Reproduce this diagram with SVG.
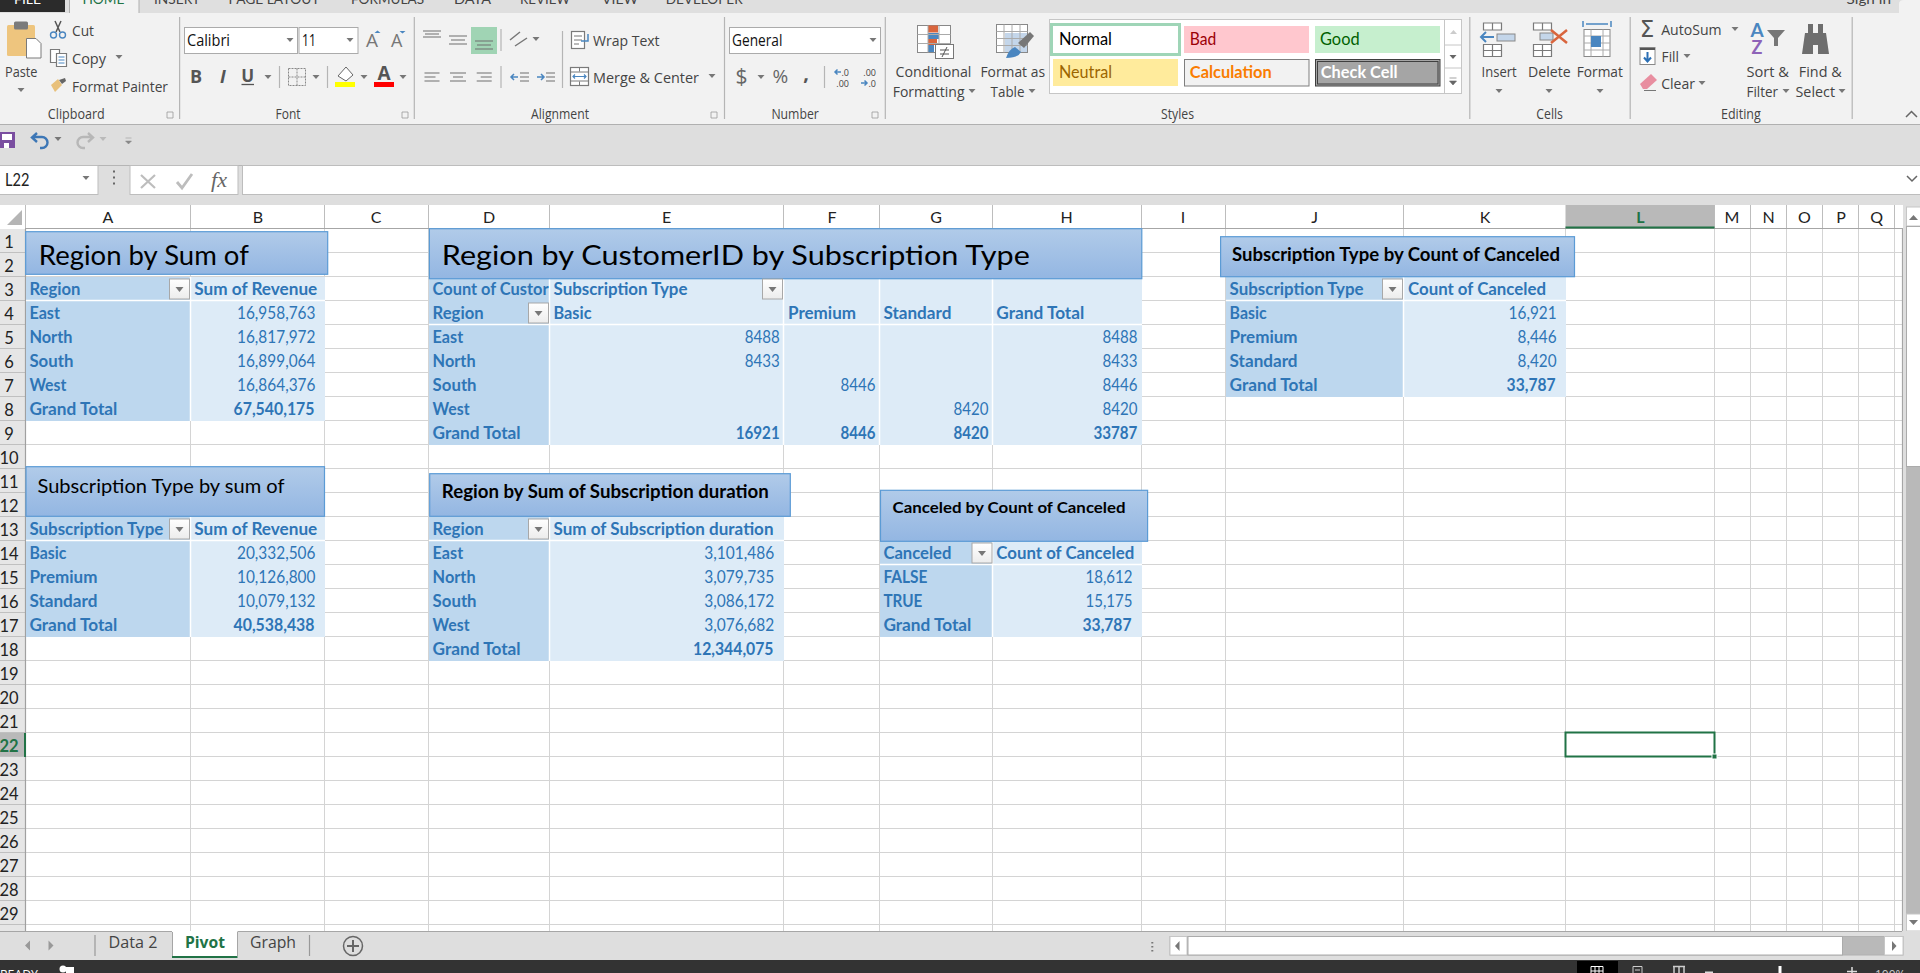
<svg xmlns="http://www.w3.org/2000/svg" width="1920" height="973" viewBox="0 0 1920 973">
<style>
text{font-family:"Lato","Open Sans","Liberation Sans",sans-serif;white-space:pre}
.u{font-family:"Open Sans","Liberation Sans",sans-serif;font-size:15px;fill:#444}
.g{font-size:14px}
.tab{font-size:13.5px;fill:#444}
.h{font-size:16px;fill:#222;text-anchor:middle}
.r{font-size:16.5px;fill:#222;text-anchor:middle}
.p{font-size:16.5px;fill:#2e75b6;transform:translate(0,-.5px)}
.b{font-size:16.5px;fill:#2e75b6;font-weight:700;transform:translate(0,-.5px)}
.dark{fill:#bdd7ee}.light{fill:#ddebf7}
.title{fill:url(#tg);stroke:#5b9bd5;stroke-width:1.2}
.t{fill:#000}
.sep{stroke:#b5b5b5;stroke-width:1.2;fill:none}
.ln{stroke:#6e6e6e;stroke-width:1.2;fill:none}
.ic{stroke:#7a7a7a;stroke-width:1.2;fill:#fff}
.wl{stroke:#fff;stroke-width:1.5;fill:none}
</style>
<defs>
<linearGradient id="tg" x1="0" y1="0" x2="0" y2="1"><stop offset="0" stop-color="#b1cbe9"/><stop offset="1" stop-color="#93b6e2"/></linearGradient>
<linearGradient id="fbg" x1="0" y1="0" x2="0" y2="1"><stop offset="0" stop-color="#fff"/><stop offset="1" stop-color="#ececec"/></linearGradient>
<g id="fb"><rect x="0.5" y="0.5" width="20" height="20" fill="url(#fbg)" stroke="#a8a8a8"/><path d="M6.5 8.5h8l-4 5z" fill="#777"/></g>
<path id="dd" d="M-3.5 -2h7l-3.5 4z" fill="#777"/>
</defs>
<rect width="1920" height="973" fill="#fff"/>

<g id="tabs">
<rect width="1920" height="13" fill="#dfdfdf"/>
<rect width="65" height="12" fill="#2b2b2b"/>
<text x="14" y="3.5" class="tab" style="fill:#fff" textLength="27" lengthAdjust="spacingAndGlyphs">FILE</text>
<path d="M69.5 0V13.5H139V0" fill="#f2f2f2" stroke="#b0b0b0"/>
<text x="82.4" y="3.5" class="tab" style="fill:#217346" textLength="42" lengthAdjust="spacingAndGlyphs">HOME</text>
<text x="154" y="3.5" class="tab" textLength="46" lengthAdjust="spacingAndGlyphs">INSERT</text>
<text x="228.6" y="3.5" class="tab" textLength="91" lengthAdjust="spacingAndGlyphs">PAGE LAYOUT</text>
<text x="351" y="3.5" class="tab" textLength="73" lengthAdjust="spacingAndGlyphs">FORMULAS</text>
<text x="454" y="3.5" class="tab" textLength="37" lengthAdjust="spacingAndGlyphs">DATA</text>
<text x="520" y="3.5" class="tab" textLength="50" lengthAdjust="spacingAndGlyphs">REVIEW</text>
<text x="602" y="3.5" class="tab" textLength="36" lengthAdjust="spacingAndGlyphs">VIEW</text>
<text x="665.7" y="3.5" class="tab" textLength="77" lengthAdjust="spacingAndGlyphs">DEVELOPER</text>
<text x="1846.5" y="3.5" class="tab" textLength="44.5" lengthAdjust="spacingAndGlyphs">Sign in</text>
<path d="M1899 13V4Q1899 0 1904 0H1920V13z" fill="#f2f2f2"/>
</g>

<g id="ribbon">
<rect y="13" width="1920" height="111" fill="#f2f2f2"/>
<path d="M0 124.5H1920" stroke="#b0b0b0" stroke-width="1.2"/>
<path class="sep" d="M179.6 17V119M414.3 17V119M724.5 17V119M885.3 17V119M1469.8 17V119M1630.2 17V119M1852.2 17V119"/>
<text class="u g" x="47.8" y="119" textLength="57" lengthAdjust="spacingAndGlyphs">Clipboard</text>
<text class="u g" x="275.5" y="119" textLength="25" lengthAdjust="spacingAndGlyphs">Font</text>
<text class="u g" x="531" y="119" textLength="58" lengthAdjust="spacingAndGlyphs">Alignment</text>
<text class="u g" x="771.4" y="119" textLength="47.4" lengthAdjust="spacingAndGlyphs">Number</text>
<text class="u g" x="1161" y="119" textLength="33" lengthAdjust="spacingAndGlyphs">Styles</text>
<text class="u g" x="1536.3" y="119" textLength="26.6" lengthAdjust="spacingAndGlyphs">Cells</text>
<text class="u g" x="1721" y="119" textLength="39.8" lengthAdjust="spacingAndGlyphs">Editing</text>
<path class="ic" style="stroke:#999;stroke-width:.8;fill:none" d="M167 112h6v6h-6zM402 112h6v6h-6zM711 112h6v6h-6zM872 112h6v6h-6z"/>

<g id="clipboard">
<rect x="7" y="25" width="28" height="31" rx="1.5" fill="#eec57e"/>
<rect x="14" y="21.5" width="14" height="8" rx="1.5" fill="#7b7b7b"/>
<path d="M26.5 38.5H36L41 43.5V58H26.5z" fill="#fff" stroke="#7a7a7a"/>
<text class="u" x="5" y="76.5" textLength="32.5" lengthAdjust="spacingAndGlyphs">Paste</text>
<use href="#dd" x="21" y="90"/>
<path d="M55 21L60 32M61 21L56 32" stroke="#555" stroke-width="1.5" fill="none"/>
<circle cx="53.5" cy="35" r="3" fill="none" stroke="#4a86c0" stroke-width="1.4"/><circle cx="62.5" cy="35" r="3" fill="none" stroke="#4a86c0" stroke-width="1.4"/>
<text class="u" x="72" y="35.5" textLength="22" lengthAdjust="spacingAndGlyphs">Cut</text>
<path class="ic" d="M50.5 49.5h9v13h-9z"/><path class="ic" d="M56.5 53.5h10v13h-10z"/><path d="M58.5 57h6M58.5 60h6M58.5 63h6" stroke="#4a86c0" fill="none"/>
<text class="u" x="72" y="63.5" textLength="34" lengthAdjust="spacingAndGlyphs">Copy</text>
<use href="#dd" x="119" y="57"/>
<path d="M51 85L58 79L62 85L55 92z" fill="#e8c07a"/><path d="M59 80L65 78L66 81L62 84z" fill="#666"/>
<text class="u" x="72" y="91.5" textLength="96" lengthAdjust="spacingAndGlyphs">Format Painter</text>
</g>

<g id="font">
<rect x="184.5" y="27.5" width="113" height="26" fill="#fff" stroke="#ababab"/>
<rect x="299" y="27.5" width="59" height="26" fill="#fff" stroke="#ababab"/>
<text x="187" y="45.5" class="u" style="fill:#111;font-size:16px" textLength="43" lengthAdjust="spacingAndGlyphs">Calibri</text>
<text x="302" y="45.5" class="u" style="fill:#111;font-size:16px" textLength="14" lengthAdjust="spacingAndGlyphs">11</text>
<use href="#dd" x="290" y="40"/><use href="#dd" x="350" y="40"/>
<text x="372" y="47" class="u" style="fill:#777;font-size:19px;text-anchor:middle">A</text><path d="M374.500 33l3 -2.500 3 2.500z" fill="#4a86c0"/>
<text x="396.700" y="47" class="u" style="fill:#777;font-size:18px;text-anchor:middle">A</text><path d="M399.500 31h6l-3 2.500z" fill="#4a86c0"/>
<text x="196" y="83" class="u" style="fill:#555;font-weight:700;font-size:18px;text-anchor:middle">B</text>
<text x="223" y="83" class="u" style="fill:#555;font-weight:700;font-style:italic;font-size:18px;text-anchor:middle">I</text>
<text x="247.800" y="81.500" class="u" style="fill:#555;font-weight:700;font-size:17px;text-anchor:middle">U</text><path d="M241.500 84.500h12.500" stroke="#555" stroke-width="1.300"/>
<use href="#dd" x="268" y="77"/>
<path class="sep" d="M279.500 66V88M327.500 66V88"/>
<path d="M288.500 68.500h17v17h-17zM297 68.500v17M288.500 77h17" stroke="#888" stroke-width="1" stroke-dasharray="2 1" fill="none"/>
<use href="#dd" x="316" y="77"/>
<path d="M338 76L346 67L353 75L346 81z" fill="#fff" stroke="#666"/><rect x="335" y="82" width="20" height="5" fill="#ff0"/>
<use href="#dd" x="364" y="77"/>
<text x="384" y="80" class="u" style="fill:#555;font-weight:700;font-size:19px;text-anchor:middle">A</text><rect x="374" y="82" width="20" height="5" fill="#f00"/>
<use href="#dd" x="403" y="77"/>
</g>

<g id="alignment">
<rect x="471" y="27" width="26" height="27" fill="#a0d4b4"/>
<path class="ln" d="M423 31h18M425 34h14M423 37h18M449 36h18M451 40h14M449 44h18M475 41h18M477 45h14M475 49h18"/>
<path class="sep" d="M501 29V51M501 66V88M562.500 31V88"/>
<path d="M510 40L520 32M515 46L527 38" stroke="#777" stroke-width="1.500" fill="none"/><use href="#dd" x="536" y="39"/>
<path class="ln" d="M424.500 73h15M424.500 77h11M424.500 81h15M450 73h16M453 77h10M450 81h16M476.700 73h15M480.700 77h11M476.700 81h15M520 73h9M520 77h9M520 81h9M546 73h9M546 77h9M546 81h9"/>
<path d="M511 77h7M514 74l-3 3 3 3M537 77h7M541 74l3 3 -3 3" stroke="#4a86c0" stroke-width="1.500" fill="none"/>
<rect class="ic" x="571.500" y="31.500" width="13" height="17"/><path d="M574 36h8M574 40h8M574 44h5" stroke="#777" fill="none"/><path d="M588 34v7h-7" stroke="#4a86c0" stroke-width="1.500" fill="none"/>
<text class="u" x="593" y="45.500" textLength="66.600" lengthAdjust="spacingAndGlyphs">Wrap Text</text>
<rect class="ic" x="570.500" y="67.500" width="18" height="18"/><path d="M570.500 72h18M570.500 81h18M579.500 67.500v4M579.500 81.500v4" stroke="#7a7a7a" fill="none"/><path d="M573 76.500h13M575 74.500l-2 2 2 2M584 74.500l2 2 -2 2" stroke="#4a86c0" stroke-width="1.200" fill="none"/>
<text class="u" x="593" y="82.500" textLength="106" lengthAdjust="spacingAndGlyphs">Merge &amp; Center</text>
<use href="#dd" x="712" y="76"/>
</g>

<g id="number">
<rect x="729.500" y="27.500" width="151" height="26" fill="#fff" stroke="#ababab"/>
<text class="u" x="732" y="45.500" style="fill:#111;font-size:16px" textLength="50.400" lengthAdjust="spacingAndGlyphs">General</text>
<use href="#dd" x="873" y="40"/>
<text class="u" x="741.600" y="84" style="fill:#666;font-size:21px;text-anchor:middle">$</text><use href="#dd" x="761" y="77"/>
<text class="u" x="780.400" y="83" style="fill:#666;font-size:19px;text-anchor:middle">%</text>
<text class="u" x="806" y="80" style="fill:#555;font-size:20px;font-weight:700;text-anchor:middle">,</text>
<path class="sep" d="M824.500 66V88"/>
<text class="u" x="849" y="76" style="font-size:9px;text-anchor:end">.0</text><text class="u" x="849" y="87" style="font-size:9px;text-anchor:end">.00</text><path d="M835 72h6M837.500 69.500l-2.500 2.500 2.500 2.500" stroke="#4a86c0" stroke-width="1.500" fill="none"/>
<text class="u" x="876" y="76" style="font-size:9px;text-anchor:end">.00</text><text class="u" x="876" y="87" style="font-size:9px;text-anchor:end">.0</text><path d="M861 83h6M864.500 80.500l2.500 2.500 -2.500 2.500" stroke="#4a86c0" stroke-width="1.500" fill="none"/>
</g>

<g id="styles">
<rect x="917.500" y="25.500" width="33" height="27" fill="#fff" stroke="#888"/>
<rect x="928" y="25.500" width="10" height="7" fill="#d9653d"/><rect x="928" y="33" width="11" height="6" fill="#4a86c0"/><rect x="928" y="39" width="9" height="6" fill="#d9653d"/><rect x="928" y="45" width="6" height="7" fill="#4a86c0"/>
<path d="M917.500 34.500h33M917.500 43.500h33M928 25.500v27M939 25.500v27" stroke="#aaa" fill="none"/>
<rect x="935.500" y="44.500" width="18" height="14" fill="#fff" stroke="#777"/><path d="M940 50h9M940 54h9M947 47l-5 10" stroke="#555" fill="none"/>
<text class="u" x="895.500" y="77.300" textLength="75.900" lengthAdjust="spacingAndGlyphs">Conditional</text>
<text class="u" x="892.700" y="96.700" textLength="71.800" lengthAdjust="spacingAndGlyphs">Formatting</text><use href="#dd" x="972" y="91"/>
<rect x="996.500" y="24.500" width="31" height="28" fill="#fff" stroke="#888"/><rect x="1005" y="33" width="22" height="19" fill="#c4d6ea"/>
<path d="M996.500 31.500h31M996.500 38.500h31M996.500 45.500h31M1004 24.500v28M1012 24.500v28M1020 24.500v28" stroke="#aaa" fill="none"/>
<path d="M1018 43L1030 32L1034 36L1024 48z" fill="#777"/><path d="M1006 58Q1009 49 1015 47L1021 52Q1018 58 1006 58z" fill="#4a86c0"/>
<text class="u" x="980.400" y="77.300" textLength="64.600" lengthAdjust="spacingAndGlyphs">Format as</text>
<text class="u" x="990.600" y="96.700" textLength="33.900" lengthAdjust="spacingAndGlyphs">Table</text><use href="#dd" x="1032" y="91"/>
<rect x="1049.500" y="19.500" width="412" height="74" fill="#fff" stroke="#c6c6c6"/>
<rect x="1051.500" y="24.500" width="128" height="30" fill="#fff" stroke="#9fd5b7" stroke-width="3"/>
<text x="1059" y="45" style="font-size:17px" fill="#000" textLength="53" lengthAdjust="spacingAndGlyphs">Normal</text>
<rect x="1184" y="26" width="125" height="27" fill="#ffc7ce"/>
<text x="1189.800" y="45" style="font-size:17px" fill="#9c0006" textLength="26.500" lengthAdjust="spacingAndGlyphs">Bad</text>
<rect x="1315" y="26" width="125" height="27" fill="#c6efce"/>
<text x="1320" y="45" style="font-size:17px" fill="#006100" textLength="39.600" lengthAdjust="spacingAndGlyphs">Good</text>
<rect x="1053" y="59" width="125" height="27" fill="#ffeb9c"/>
<text x="1059" y="78.300" style="font-size:17px" fill="#9c6500" textLength="53" lengthAdjust="spacingAndGlyphs">Neutral</text>
<rect x="1184.500" y="59.500" width="124.500" height="26.500" fill="#f2f2f2" stroke="#7f7f7f"/>
<text x="1189.800" y="78.300" style="font-size:17px;font-weight:700" fill="#fa7d00" textLength="82" lengthAdjust="spacingAndGlyphs">Calculation</text>
<rect x="1315.500" y="59.500" width="124.500" height="26.500" fill="#a5a5a5" stroke="#3f3f3f"/><rect x="1317.500" y="61.500" width="120.500" height="22.500" fill="none" stroke="#3f3f3f"/>
<text x="1320.800" y="78.300" style="font-size:17px;font-weight:700" fill="#fff" textLength="76.800" lengthAdjust="spacingAndGlyphs">Check Cell</text>
<path d="M1444.500 19.500V93.500M1444.500 45H1461.500M1444.500 68H1461.500" stroke="#c6c6c6" fill="none"/>
<path d="M1450 34h7l-3.500 -4z" fill="#ccc"/><path d="M1449.500 55h7l-3.500 4z" fill="#666"/><path d="M1449.500 78h7M1449.500 81h7l-3.500 4z" fill="#666" stroke="#666" stroke-width=".6"/>
</g>

<g id="cells">
<path class="ic" d="M1483.500 23h18v7h-18zM1492.500 23v7M1483.500 44.500h18v12h-18zM1492.500 44.500v12M1483.500 50.500h18"/>
<rect x="1497" y="34" width="18" height="7" fill="#c4d6ea" stroke="#888"/>
<path d="M1481 37h13M1486 32l-5 5 5 5" stroke="#4a86c0" stroke-width="2" fill="none"/>
<text class="u" x="1481.600" y="77.300" textLength="35.100" lengthAdjust="spacingAndGlyphs">Insert</text><use href="#dd" x="1499" y="91"/>
<path class="ic" d="M1533.500 23h18v7h-18zM1542.500 23v7M1533.500 44.500h18v12h-18zM1542.500 44.500v12M1533.500 50.500h18"/>
<rect x="1540" y="33" width="13" height="7" fill="#c4d6ea" stroke="#888"/>
<path d="M1551 30L1567 43M1567 30L1551 43" stroke="#d9653d" stroke-width="2.500" fill="none"/>
<text class="u" x="1528" y="77.300" textLength="42.600" lengthAdjust="spacingAndGlyphs">Delete</text><use href="#dd" x="1549" y="91"/>
<path d="M1583 21v6M1611 21v6M1586 24h22" stroke="#4a86c0" stroke-width="1.500" fill="none"/>
<rect x="1584" y="29.500" width="26" height="27" fill="#fff" stroke="#888"/><path d="M1584 36h26M1584 43h26M1584 50h26M1591 29.500v27M1603 29.500v27" stroke="#aaa" fill="none"/><rect x="1591" y="36" width="10" height="11" fill="#4a86c0"/>
<text class="u" x="1576.700" y="77.300" textLength="46.200" lengthAdjust="spacingAndGlyphs">Format</text><use href="#dd" x="1600" y="91"/>
</g>

<g id="editing">
<text x="1647" y="37" style="font-family:'DejaVu Sans',sans-serif;font-size:23px;text-anchor:middle" fill="#555">Σ</text>
<text class="u" x="1661.200" y="35" textLength="60.400" lengthAdjust="spacingAndGlyphs">AutoSum</text><use href="#dd" x="1735" y="29"/>
<rect x="1640" y="47.500" width="15" height="17" fill="#fff" stroke="#888"/><path d="M1640 49h15" stroke="#555" stroke-width="2"/><path d="M1647.500 52v9M1644 57.500l3.500 4 3.500 -4" stroke="#2a6fb5" stroke-width="2" fill="none"/>
<text class="u" x="1661.600" y="62.300" textLength="17.400" lengthAdjust="spacingAndGlyphs">Fill</text><use href="#dd" x="1687" y="56"/>
<path d="M1640 84L1651 74L1657 80L1647 89L1643 89z" fill="#e88ea0"/><path d="M1644 90.500h12" stroke="#777"/>
<text class="u" x="1661.200" y="89" textLength="33.800" lengthAdjust="spacingAndGlyphs">Clear</text><use href="#dd" x="1702" y="83"/>
<text x="1757" y="36.500" style="font-size:19px;text-anchor:middle" fill="#4a86c0" font-weight="700">A</text>
<text x="1757" y="54" style="font-size:18px;text-anchor:middle" fill="#8e63b8" font-weight="700">Z</text>
<path d="M1767 30h18l-7 8v8h-4v-8z" fill="#777"/>
<text class="u" x="1746.500" y="77.300" textLength="42.500" lengthAdjust="spacingAndGlyphs">Sort &amp;</text>
<text class="u" x="1746.500" y="97" textLength="31.500" lengthAdjust="spacingAndGlyphs">Filter</text><use href="#dd" x="1786" y="91"/>
<path d="M1808 24h5v9h5v-9h5v9h3l3 21h-11v-9h-5v9h-11l3-21h3z" fill="#6e6e6e"/>
<text class="u" x="1798.800" y="77.300" textLength="42.800" lengthAdjust="spacingAndGlyphs">Find &amp;</text>
<text class="u" x="1795.500" y="97" textLength="39.500" lengthAdjust="spacingAndGlyphs">Select</text><use href="#dd" x="1842" y="91"/>
<path d="M1906 117l5.500 -5.500 5.500 5.500" stroke="#666" stroke-width="1.500" fill="none"/>
</g>
</g>

<g id="qat">
<rect y="125" width="1920" height="80" fill="#dedede"/>
<path d="M0 132H15V148H0z" fill="#7a4ea0"/><rect x="2" y="134" width="10" height="6" fill="#fff"/><rect x="4" y="143" width="5" height="5" fill="#fff"/>
<path d="M33 137h9a5.500 5.500 0 0 1 0 11h-2M37 133l-5 4.500 5 4.500" stroke="#3d77b6" stroke-width="2.400" fill="none"/><use href="#dd" x="58" y="139"/>
<path d="M92 137h-9a5.500 5.500 0 0 0 0 11h2M88 133l5 4.500 -5 4.500" stroke="#b7b7b7" stroke-width="2.400" fill="none"/><use href="#dd" x="103" y="139" opacity=".35"/>
<path d="M125.500 138h6M125.500 141h6l-3 3z" stroke="#888" fill="#888" stroke-width=".5"/>
<path d="M0 165.500H1920" stroke="#b5b5b5"/>
</g>

<g id="formula-bar">
<rect x="-1" y="165.500" width="99" height="29" fill="#fff" stroke="#bdbdbd"/>
<text x="5" y="186" style="font-size:17px" fill="#222" textLength="24.400" lengthAdjust="spacingAndGlyphs">L22</text>
<use href="#dd" x="86" y="178"/>
<path d="M114 170.500v2M114 176.500v2M114 182.500v2" stroke="#666" stroke-width="2" fill="none"/>
<rect x="130" y="165.500" width="108" height="29" fill="#fff" stroke="#bdbdbd"/>
<path d="M141 175L155 188M155 175L141 188" stroke="#bdbdbd" stroke-width="2.200" fill="none"/>
<path d="M177 182L182 188L192 174" stroke="#bdbdbd" stroke-width="2.800" fill="none"/>
<text x="211" y="187" style="font-family:'Liberation Serif',serif;font-style:italic;font-size:21px" fill="#666" textLength="16" lengthAdjust="spacingAndGlyphs">fx</text>
<rect x="242.500" y="165.500" width="1680" height="29" fill="#fff" stroke="#bdbdbd"/>
<path d="M1907 176l5 5 5 -5" stroke="#666" stroke-width="1.500" fill="none"/>
</g>

<g id="sheet-grid">
<path stroke="#d4d4d4" fill="none" d="M26 252.500H1902M26 276.500H1902M26 300.500H1902M26 324.500H1902M26 348.500H1902M26 372.500H1902M26 396.500H1902M26 420.500H1902M26 444.500H1902M26 468.500H1902M26 492.500H1902M26 516.500H1902M26 540.500H1902M26 564.500H1902M26 588.500H1902M26 612.500H1902M26 636.500H1902M26 660.500H1902M26 684.500H1902M26 708.500H1902M26 732.500H1902M26 756.500H1902M26 780.500H1902M26 804.500H1902M26 828.500H1902M26 852.500H1902M26 876.500H1902M26 900.500H1902M26 924.500H1902M190.500 229V931M324.500 229V931M428.500 229V931M549.500 229V931M783.500 229V931M879.500 229V931M992.500 229V931M1141.500 229V931M1225.500 229V931M1403.500 229V931M1565.500 229V931M1714.500 229V931M1750.500 229V931M1786.500 229V931M1822.500 229V931M1858.500 229V931M1894.500 229V931"/>
</g>

<g id="col-headers">
<path d="M7 225L22 210V225z" fill="#b5b5b5"/>
<path stroke="#bdbdbd" fill="none" d="M25.500 205V228M190.500 205V228M324.500 205V228M428.500 205V228M549.500 205V228M783.500 205V228M879.500 205V228M992.500 205V228M1141.500 205V228M1225.500 205V228M1403.500 205V228M1714.500 205V228M1750.500 205V228M1786.500 205V228M1822.500 205V228M1858.500 205V228M1894.500 205V228"/>
<rect x="1565.500" y="205" width="149" height="23" fill="#b9b9b9"/>
<path d="M25 228.500H1902.500V931" stroke="#a6a6a6" stroke-width="1.200" fill="none"/>
<path d="M1565.500 227.500H1714.500" stroke="#217346" stroke-width="2"/>
<text class="h" x="108" y="222.500">A</text><text class="h" x="258" y="222.500">B</text><text class="h" x="376" y="222.500">C</text><text class="h" x="489" y="222.500">D</text><text class="h" x="666.500" y="222.500">E</text><text class="h" x="832" y="222.500">F</text><text class="h" x="936" y="222.500">G</text><text class="h" x="1066.500" y="222.500">H</text><text class="h" x="1183" y="222.500">I</text><text class="h" x="1314.700" y="222.500">J</text><text class="h" x="1485" y="222.500">K</text><text class="h" x="1640.400" y="222.500" style="fill:#217346;font-weight:700">L</text><text class="h" x="1732" y="222.500">M</text><text class="h" x="1768.600" y="222.500">N</text><text class="h" x="1804.500" y="222.500">O</text><text class="h" x="1841" y="222.500">P</text><text class="h" x="1876.700" y="222.500">Q</text>
</g>

<g id="row-headers">
<rect y="229" width="25" height="702" fill="#e6e6e6"/>
<rect y="733" width="25" height="24" fill="#b9b9b9"/>
<path stroke="#c0c0c0" fill="none" d="M0 252.500H25M0 276.500H25M0 300.500H25M0 324.500H25M0 348.500H25M0 372.500H25M0 396.500H25M0 420.500H25M0 444.500H25M0 468.500H25M0 492.500H25M0 516.500H25M0 540.500H25M0 564.500H25M0 588.500H25M0 612.500H25M0 636.500H25M0 660.500H25M0 684.500H25M0 708.500H25M0 732.500H25M0 756.500H25M0 780.500H25M0 804.500H25M0 828.500H25M0 852.500H25M0 876.500H25M0 900.500H25M0 924.500H25"/>
<path d="M25.500 229V931" stroke="#a0a0a0" stroke-width="1.200"/>
<path d="M25 733V757" stroke="#217346" stroke-width="2"/>
<text class="r" x="9" y="247.500">1</text><text class="r" x="9" y="271.500">2</text><text class="r" x="9" y="295.500">3</text><text class="r" x="9" y="319.500">4</text><text class="r" x="9" y="343.500">5</text><text class="r" x="9" y="367.500">6</text><text class="r" x="9" y="391.500">7</text><text class="r" x="9" y="415.500">8</text><text class="r" x="9" y="439.500">9</text><text class="r" x="9" y="463.500">10</text><text class="r" x="9" y="487.500">11</text><text class="r" x="9" y="511.500">12</text><text class="r" x="9" y="535.500">13</text><text class="r" x="9" y="559.500">14</text><text class="r" x="9" y="583.500">15</text><text class="r" x="9" y="607.500">16</text><text class="r" x="9" y="631.500">17</text><text class="r" x="9" y="655.500">18</text><text class="r" x="9" y="679.500">19</text><text class="r" x="9" y="703.500">20</text><text class="r" x="9" y="727.500">21</text><text class="r" x="9" y="751.500" style="fill:#217346;font-weight:700">22</text><text class="r" x="9" y="775.500">23</text><text class="r" x="9" y="799.500">24</text><text class="r" x="9" y="823.500">25</text><text class="r" x="9" y="847.500">26</text><text class="r" x="9" y="871.500">27</text><text class="r" x="9" y="895.500">28</text><text class="r" x="9" y="919.500">29</text>
</g>

<g id="pivot-region-revenue">
<rect class="dark" x="26" y="277" width="164" height="144"/>
<rect class="light" x="191" y="277" width="134" height="144"/>
<path class="wl" d="M26 300.500H325M190.500 277V421"/>
<rect class="title" x="25.700" y="231.700" width="302" height="42.600"/>
<text x="38.800" y="265" style="font-size:27px" class="t" textLength="210" lengthAdjust="spacingAndGlyphs">Region by Sum of</text>
<text class="b" x="29.400" y="295.500" textLength="51" lengthAdjust="spacingAndGlyphs">Region</text>
<use href="#fb" x="169" y="278.500"/>
<text class="b" x="194.300" y="295.500" textLength="123" lengthAdjust="spacingAndGlyphs">Sum of Revenue</text>
<text class="b" x="29.400" y="319.500" textLength="30.600" lengthAdjust="spacingAndGlyphs">East</text>
<text class="b" x="29.400" y="343.500" textLength="43" lengthAdjust="spacingAndGlyphs">North</text>
<text class="b" x="29.400" y="367.500" textLength="44" lengthAdjust="spacingAndGlyphs">South</text>
<text class="b" x="29.400" y="391.500" textLength="37" lengthAdjust="spacingAndGlyphs">West</text>
<text class="b" x="29.400" y="415.500" textLength="88" lengthAdjust="spacingAndGlyphs">Grand Total</text>
<text class="p" x="237" y="319.500" textLength="78.500" lengthAdjust="spacingAndGlyphs">16,958,763</text>
<text class="p" x="237" y="343.500" textLength="78.500" lengthAdjust="spacingAndGlyphs">16,817,972</text>
<text class="p" x="237" y="367.500" textLength="78.500" lengthAdjust="spacingAndGlyphs">16,899,064</text>
<text class="p" x="237" y="391.500" textLength="78.500" lengthAdjust="spacingAndGlyphs">16,864,376</text>
<text class="b" x="233.500" y="415.500" textLength="81" lengthAdjust="spacingAndGlyphs">67,540,175</text>
</g>

<g id="pivot-region-customer-subscription">
<rect class="dark" x="429" y="277" width="120" height="168"/>
<rect class="light" x="550" y="277" width="592" height="168"/>
<path class="wl" d="M429 324.500H1142M549.500 277V445M783.500 277V445M879.500 277V445M992.500 277V445"/>
<rect class="title" x="429.400" y="228.700" width="712.400" height="50"/>
<text x="441.800" y="265" style="font-size:27px" class="t" textLength="588" lengthAdjust="spacingAndGlyphs">Region by CustomerID by Subscription Type</text>
<text class="b" x="432.600" y="295.500" textLength="116" lengthAdjust="spacingAndGlyphs">Count of Custor</text>
<text class="b" x="553.500" y="295.500" textLength="134" lengthAdjust="spacingAndGlyphs">Subscription Type</text>
<use href="#fb" x="762" y="278.500"/>
<text class="b" x="432.600" y="319.500" textLength="51" lengthAdjust="spacingAndGlyphs">Region</text>
<use href="#fb" x="528" y="302.500"/>
<text class="b" x="553.500" y="319.500" textLength="38" lengthAdjust="spacingAndGlyphs">Basic</text>
<text class="b" x="788" y="319.500" textLength="68" lengthAdjust="spacingAndGlyphs">Premium</text>
<text class="b" x="883.400" y="319.500" textLength="68" lengthAdjust="spacingAndGlyphs">Standard</text>
<text class="b" x="996.300" y="319.500" textLength="88" lengthAdjust="spacingAndGlyphs">Grand Total</text>
<text class="b" x="432.600" y="343.500" textLength="30.600" lengthAdjust="spacingAndGlyphs">East</text>
<text class="b" x="432.600" y="367.500" textLength="43" lengthAdjust="spacingAndGlyphs">North</text>
<text class="b" x="432.600" y="391.500" textLength="44" lengthAdjust="spacingAndGlyphs">South</text>
<text class="b" x="432.600" y="415.500" textLength="37" lengthAdjust="spacingAndGlyphs">West</text>
<text class="b" x="432.600" y="439.500" textLength="88" lengthAdjust="spacingAndGlyphs">Grand Total</text>
<text class="p" x="744.700" y="343.500" textLength="35" lengthAdjust="spacingAndGlyphs">8488</text>
<text class="p" x="744.700" y="367.500" textLength="35" lengthAdjust="spacingAndGlyphs">8433</text>
<text class="p" x="840.600" y="391.500" textLength="35" lengthAdjust="spacingAndGlyphs">8446</text>
<text class="p" x="953.600" y="415.500" textLength="35" lengthAdjust="spacingAndGlyphs">8420</text>
<text class="p" x="1102.400" y="343.500" textLength="35" lengthAdjust="spacingAndGlyphs">8488</text>
<text class="p" x="1102.400" y="367.500" textLength="35" lengthAdjust="spacingAndGlyphs">8433</text>
<text class="p" x="1102.400" y="391.500" textLength="35" lengthAdjust="spacingAndGlyphs">8446</text>
<text class="p" x="1102.400" y="415.500" textLength="35" lengthAdjust="spacingAndGlyphs">8420</text>
<text class="b" x="735.700" y="439.500" textLength="44" lengthAdjust="spacingAndGlyphs">16921</text>
<text class="b" x="840.600" y="439.500" textLength="35" lengthAdjust="spacingAndGlyphs">8446</text>
<text class="b" x="953.600" y="439.500" textLength="35" lengthAdjust="spacingAndGlyphs">8420</text>
<text class="b" x="1093.400" y="439.500" textLength="44" lengthAdjust="spacingAndGlyphs">33787</text>
</g>

<g id="pivot-subscription-canceled">
<rect class="dark" x="1226" y="277" width="177" height="120"/>
<rect class="light" x="1404" y="277" width="162" height="120"/>
<path class="wl" d="M1226 300.500H1566M1403.500 277V397"/>
<rect class="title" x="1220.600" y="236.700" width="353.900" height="40"/>
<text x="1232" y="260.700" style="font-size:18px;font-weight:700" class="t" textLength="328" lengthAdjust="spacingAndGlyphs">Subscription Type by Count of Canceled</text>
<text class="b" x="1229.600" y="295.500" textLength="134" lengthAdjust="spacingAndGlyphs">Subscription Type</text>
<use href="#fb" x="1382" y="278.500"/>
<text class="b" x="1408" y="295.500" textLength="138" lengthAdjust="spacingAndGlyphs">Count of Canceled</text>
<text class="b" x="1229.600" y="319.500" textLength="37" lengthAdjust="spacingAndGlyphs">Basic</text>
<text class="b" x="1229.600" y="343.500" textLength="68" lengthAdjust="spacingAndGlyphs">Premium</text>
<text class="b" x="1229.600" y="367.500" textLength="68" lengthAdjust="spacingAndGlyphs">Standard</text>
<text class="b" x="1229.600" y="391.500" textLength="88" lengthAdjust="spacingAndGlyphs">Grand Total</text>
<text class="p" x="1508.600" y="319.500" textLength="48" lengthAdjust="spacingAndGlyphs">16,921</text>
<text class="p" x="1517.600" y="343.500" textLength="39" lengthAdjust="spacingAndGlyphs">8,446</text>
<text class="p" x="1517.600" y="367.500" textLength="39" lengthAdjust="spacingAndGlyphs">8,420</text>
<text class="b" x="1506.600" y="391.500" textLength="49" lengthAdjust="spacingAndGlyphs">33,787</text>
</g>

<g id="pivot-subscription-revenue">
<rect class="dark" x="26" y="517" width="164" height="120"/>
<rect class="light" x="191" y="517" width="134" height="120"/>
<path class="wl" d="M26 540.500H325M190.500 517V637"/>
<rect class="title" x="26" y="466.700" width="298.500" height="49.600"/>
<text x="37.500" y="493.300" style="font-size:20px" class="t" textLength="247" lengthAdjust="spacingAndGlyphs">Subscription Type by sum of</text>
<text class="b" x="29.400" y="535.500" textLength="134" lengthAdjust="spacingAndGlyphs">Subscription Type</text>
<use href="#fb" x="169" y="518.500"/>
<text class="b" x="194.300" y="535.500" textLength="123" lengthAdjust="spacingAndGlyphs">Sum of Revenue</text>
<text class="b" x="29.400" y="559.500" textLength="37" lengthAdjust="spacingAndGlyphs">Basic</text>
<text class="b" x="29.400" y="583.500" textLength="68" lengthAdjust="spacingAndGlyphs">Premium</text>
<text class="b" x="29.400" y="607.500" textLength="68" lengthAdjust="spacingAndGlyphs">Standard</text>
<text class="b" x="29.400" y="631.500" textLength="88" lengthAdjust="spacingAndGlyphs">Grand Total</text>
<text class="p" x="237" y="559.500" textLength="78.500" lengthAdjust="spacingAndGlyphs">20,332,506</text>
<text class="p" x="237" y="583.500" textLength="78.500" lengthAdjust="spacingAndGlyphs">10,126,800</text>
<text class="p" x="237" y="607.500" textLength="78.500" lengthAdjust="spacingAndGlyphs">10,079,132</text>
<text class="b" x="233.500" y="631.500" textLength="81" lengthAdjust="spacingAndGlyphs">40,538,438</text>
</g>

<g id="pivot-region-duration">
<rect class="dark" x="429" y="517" width="120" height="144"/>
<rect class="light" x="550" y="517" width="234" height="144"/>
<path class="wl" d="M429 540.500H784M549.500 517V661"/>
<rect class="title" x="429.700" y="473.700" width="360.600" height="42.600"/>
<text x="441.800" y="498" style="font-size:18px;font-weight:700" class="t" textLength="327" lengthAdjust="spacingAndGlyphs">Region by Sum of Subscription duration</text>
<text class="b" x="432.600" y="535.500" textLength="51" lengthAdjust="spacingAndGlyphs">Region</text>
<use href="#fb" x="528" y="518.500"/>
<text class="b" x="553.500" y="535.500" textLength="220" lengthAdjust="spacingAndGlyphs">Sum of Subscription duration</text>
<text class="b" x="432.600" y="559.500" textLength="30.600" lengthAdjust="spacingAndGlyphs">East</text>
<text class="b" x="432.600" y="583.500" textLength="43" lengthAdjust="spacingAndGlyphs">North</text>
<text class="b" x="432.600" y="607.500" textLength="44" lengthAdjust="spacingAndGlyphs">South</text>
<text class="b" x="432.600" y="631.500" textLength="37" lengthAdjust="spacingAndGlyphs">West</text>
<text class="b" x="432.600" y="655.500" textLength="88" lengthAdjust="spacingAndGlyphs">Grand Total</text>
<text class="p" x="704.300" y="559.500" textLength="70" lengthAdjust="spacingAndGlyphs">3,101,486</text>
<text class="p" x="704.300" y="583.500" textLength="70" lengthAdjust="spacingAndGlyphs">3,079,735</text>
<text class="p" x="704.300" y="607.500" textLength="70" lengthAdjust="spacingAndGlyphs">3,086,172</text>
<text class="p" x="704.300" y="631.500" textLength="70" lengthAdjust="spacingAndGlyphs">3,076,682</text>
<text class="b" x="693" y="655.500" textLength="80.500" lengthAdjust="spacingAndGlyphs">12,344,075</text>
</g>

<g id="pivot-canceled">
<rect class="dark" x="880" y="541" width="112" height="96"/>
<rect class="light" x="993" y="541" width="149" height="96"/>
<path class="wl" d="M880 564.500H1142M992.500 541V637"/>
<rect class="title" x="880.500" y="490.300" width="267.100" height="51"/>
<text x="892.600" y="513.300" style="font-size:15.500px;font-weight:700" class="t" textLength="233" lengthAdjust="spacingAndGlyphs">Canceled by Count of Canceled</text>
<text class="b" x="883.400" y="559.500" textLength="68" lengthAdjust="spacingAndGlyphs">Canceled</text>
<use href="#fb" x="971.500" y="542.500"/>
<text class="b" x="996.300" y="559.500" textLength="138" lengthAdjust="spacingAndGlyphs">Count of Canceled</text>
<text class="b" x="883.400" y="583.500" textLength="44" lengthAdjust="spacingAndGlyphs">FALSE</text>
<text class="b" x="883.400" y="607.500" textLength="39" lengthAdjust="spacingAndGlyphs">TRUE</text>
<text class="b" x="883.400" y="631.500" textLength="88" lengthAdjust="spacingAndGlyphs">Grand Total</text>
<text class="p" x="1085.500" y="583.500" textLength="47" lengthAdjust="spacingAndGlyphs">18,612</text>
<text class="p" x="1085.500" y="607.500" textLength="47" lengthAdjust="spacingAndGlyphs">15,175</text>
<text class="b" x="1082.500" y="631.500" textLength="49" lengthAdjust="spacingAndGlyphs">33,787</text>
</g>

<g id="selection">
<rect x="1565.500" y="732.500" width="149" height="24" fill="none" stroke="#217346" stroke-width="2"/>
<rect x="1712" y="754" width="5" height="5" fill="#217346" stroke="#fff"/>
</g>

<g id="v-scrollbar">
<rect x="1903" y="205" width="17" height="726" fill="#dedede"/>
<rect x="1906.500" y="207" width="14" height="19" fill="#fff" stroke="#c6c6c6"/><path d="M1909 220l4.500 -5 4.500 5z" fill="#777"/>
<rect x="1906.500" y="226.500" width="14" height="240" fill="#fff" stroke="#ababab"/>
<rect x="1906" y="467" width="14" height="447" fill="#b9b9b9"/>
<rect x="1906.500" y="914" width="14" height="17" fill="#fff" stroke="#c6c6c6"/><path d="M1909 920l4.500 5 4.500 -5z" fill="#777"/>
</g>

<g id="sheet-tabs">
<rect y="931" width="1920" height="29" fill="#dedede"/>
<path d="M0 931.500H1902" stroke="#a6a6a6" stroke-width="1.200"/>
<path d="M25 945.500l5 -5v10zM48.500 940.500l5 5 -5 5z" fill="#999"/>
<path class="sep" style="stroke:#999" d="M95 935V956M309.500 935V956"/>
<rect x="172" y="931" width="65.500" height="26" fill="#fff"/>
<path d="M172 957H237.500" stroke="#217346" stroke-width="2"/>
<path d="M172.500 932V956M237.500 932V956" stroke="#a6a6a6" fill="none"/>
<text x="108.600" y="947.500" style="font-family:'Open Sans',sans-serif;font-size:16px" fill="#444" textLength="48.900" lengthAdjust="spacingAndGlyphs">Data 2</text>
<text x="185" y="947.500" style="font-family:'Open Sans',sans-serif;font-size:16px;font-weight:700" fill="#217346" textLength="40" lengthAdjust="spacingAndGlyphs">Pivot</text>
<text x="250" y="947.500" style="font-family:'Open Sans',sans-serif;font-size:16px" fill="#444" textLength="46" lengthAdjust="spacingAndGlyphs">Graph</text>
<circle cx="353" cy="946" r="9.500" fill="none" stroke="#666" stroke-width="1.500"/><path d="M347 946H359M353 940V952" stroke="#666" stroke-width="2"/>
<path d="M1152.300 942v1.500M1152.300 946v1.500M1152.300 950v1.500" stroke="#777" stroke-width="2"/>
<rect x="1170" y="936.500" width="733" height="18.500" fill="#b9b9b9" stroke="#b0b0b0"/>
<rect x="1170" y="936.500" width="17" height="18.500" fill="#fff" stroke="#c6c6c6"/><path d="M1175 946l4.500 -5v10z" fill="#777"/>
<rect x="1188" y="936.500" width="654.500" height="18.500" fill="#fff" stroke="#ababab"/>
<rect x="1884.500" y="936.500" width="18.500" height="18.500" fill="#fff" stroke="#c6c6c6"/><path d="M1892 941l4.500 5 -4.500 5z" fill="#777"/>
</g>

<g id="status-bar">
<rect y="960" width="1920" height="13" fill="#333"/>
<text x="0" y="979" style="font-family:'Open Sans',sans-serif;font-size:13.500px" fill="#fff" textLength="38" lengthAdjust="spacingAndGlyphs">READY</text>
<circle cx="63" cy="969" r="3.500" fill="#fff"/><rect x="66" y="967" width="8" height="6" fill="#fff"/>
<rect x="1577" y="961" width="41" height="12" fill="#000"/>
<path d="M1591 966.500h12M1591 971h12M1591 966.500v7M1595 966.500v7M1599 966.500v7M1603 966.500v7" stroke="#fff" fill="none"/>
<path d="M1633 966.500h9v7M1633 966.500v7M1635 970h5" stroke="#ccc" fill="none"/>
<path d="M1673 966.500h12M1674 966.500v7M1684 966.500v7M1679 966.500v7" stroke="#ccc" stroke-width="1.500" fill="none"/>
<rect x="1705" y="971.500" width="8" height="1.500" fill="#ddd"/>
<rect x="1778.500" y="966" width="3" height="7" fill="#fff"/>
<path d="M1847 971.500h10M1852 967v6" stroke="#ddd" stroke-width="1.500"/>
<text x="1875" y="979" style="font-family:'Open Sans',sans-serif;font-size:13.500px" fill="#ccc" textLength="30.400" lengthAdjust="spacingAndGlyphs">100%</text>
</g>
</svg>
